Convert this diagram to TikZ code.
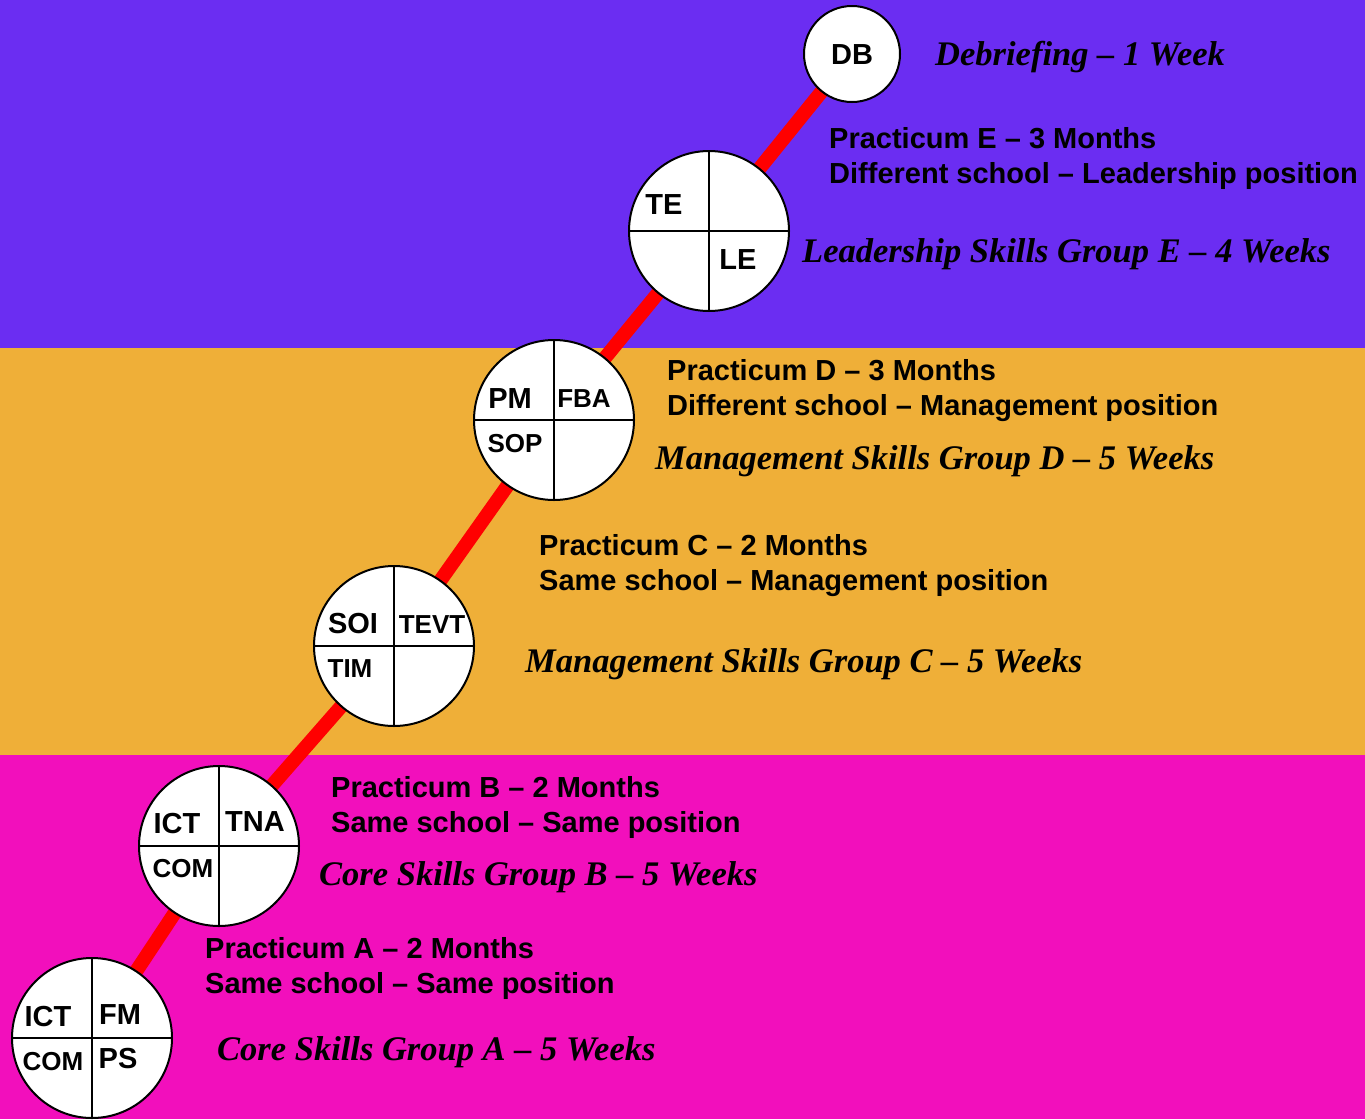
\documentclass[tikz,border=0pt]{standalone}
\usepackage{fontspec}
\setmainfont{Liberation Serif}
\setsansfont{Liberation Sans}
\usepackage{xcolor}
\definecolor{vpurple}{HTML}{6B2DF2}
\definecolor{vorange}{HTML}{EFAF38}
\definecolor{vpink}{HTML}{F20FBC}
\definecolor{vred}{HTML}{FF0000}

\begin{document}
\begin{tikzpicture}[x=1pt, y=-1pt,
	stage/.style={circle, draw=black, line width=2pt, fill=white, minimum size=160pt, inner sep=0pt},
	tag/.style={inner sep=0pt, font=\fontsize{29}{32}\selectfont\sffamily\bfseries},
	smalltag/.style={inner sep=0pt, font=\fontsize{26}{30}\selectfont\sffamily\bfseries},
	info/.style={anchor=west, align=left, inner sep=0pt, font=\fontsize{29}{35}\selectfont\sffamily\bfseries},
	group/.style={anchor=west, inner sep=0pt, font=\fontsize{34.5}{38}\selectfont\bfseries\itshape}]
	\useasboundingbox (0,0) rectangle (1365,1119);
	% bands
	\fill[vpurple] (0,0) rectangle (1365,348);
	\fill[vorange] (0,348) rectangle (1365,755);
	\fill[vpink] (0,755) rectangle (1365,1119);
	% path
	\coordinate (pa) at (92,1038);
	\coordinate (pb) at (219,846);
	\coordinate (pc) at (394,646);
	\coordinate (pd) at (554,420);
	\coordinate (pe) at (709,231);
	\coordinate (pf) at (852,54);
	\draw[vred, line width=14pt] (pa) -- (pb) -- (pc) -- (pd) -- (pe) -- (pf);
	% circles
	\foreach \p/\n in {pa/ca, pb/cb, pc/cc, pd/cd, pe/ce}{
		\node[stage] (\n) at (\p) {};
		\draw[line width=1.8pt] (\n.north) -- (\n.south) (\n.west) -- (\n.east);
	}
	\node[stage, minimum size=96pt] (cf) at (pf) {};
	% circle labels
	\node[tag] (ca1) at (48,1017) {ICT};
	\node[tag] (ca2) at (120,1015) {FM};
	\node[smalltag] (ca3) at (53,1062) {COM};
	\node[tag] (ca4) at (118,1059) {PS};
	\node[tag] (cb1) at (177,824) {ICT};
	\node[tag] (cb2) at (255,822) {TNA};
	\node[smalltag] (cb3) at (183,869) {COM};
	\node[tag] (cc1) at (353,624) {SOI};
	\node[smalltag] (cc2) at (432,625) {TEVT};
	\node[smalltag] (cc3) at (350,669) {TIM};
	\node[tag] (cd1) at (510,399) {PM};
	\node[smalltag] (cd2) at (584,399) {FBA};
	\node[smalltag] (cd3) at (515,444) {SOP};
	\node[tag] (ce1) at (664,205) {TE};
	\node[tag] (ce2) at (738,260) {LE};
	\node[tag] (cf1) at (852,55) {DB};
	% texts
	\node[group] (tf) at (935,57) {Debriefing -- 1 Week};
	\node[info] (te) at (829,158.5) {Practicum E -- 3 Months\\Different school -- Leadership position};
	\node[group] (ge) at (802,254) {Leadership Skills Group E -- 4 Weeks};
	\node[info] (td) at (667,390.5) {Practicum D -- 3 Months\\Different school -- Management position};
	\node[group] (gd) at (655,461) {Management Skills Group D -- 5 Weeks};
	\node[info] (tc) at (539,565.5) {Practicum C -- 2 Months\\Same school -- Management position};
	\node[group] (gc) at (525,664) {Management Skills Group C -- 5 Weeks};
	\node[info] (tb) at (331,807.5) {Practicum B -- 2 Months\\Same school -- Same position};
	\node[group] (gb) at (319,877) {Core Skills Group B -- 5 Weeks};
	\node[info] (ta) at (205,968.5) {Practicum A -- 2 Months\\Same school -- Same position};
	\node[group] (ga) at (217,1052) {Core Skills Group A -- 5 Weeks};
\end{tikzpicture}
\end{document}
